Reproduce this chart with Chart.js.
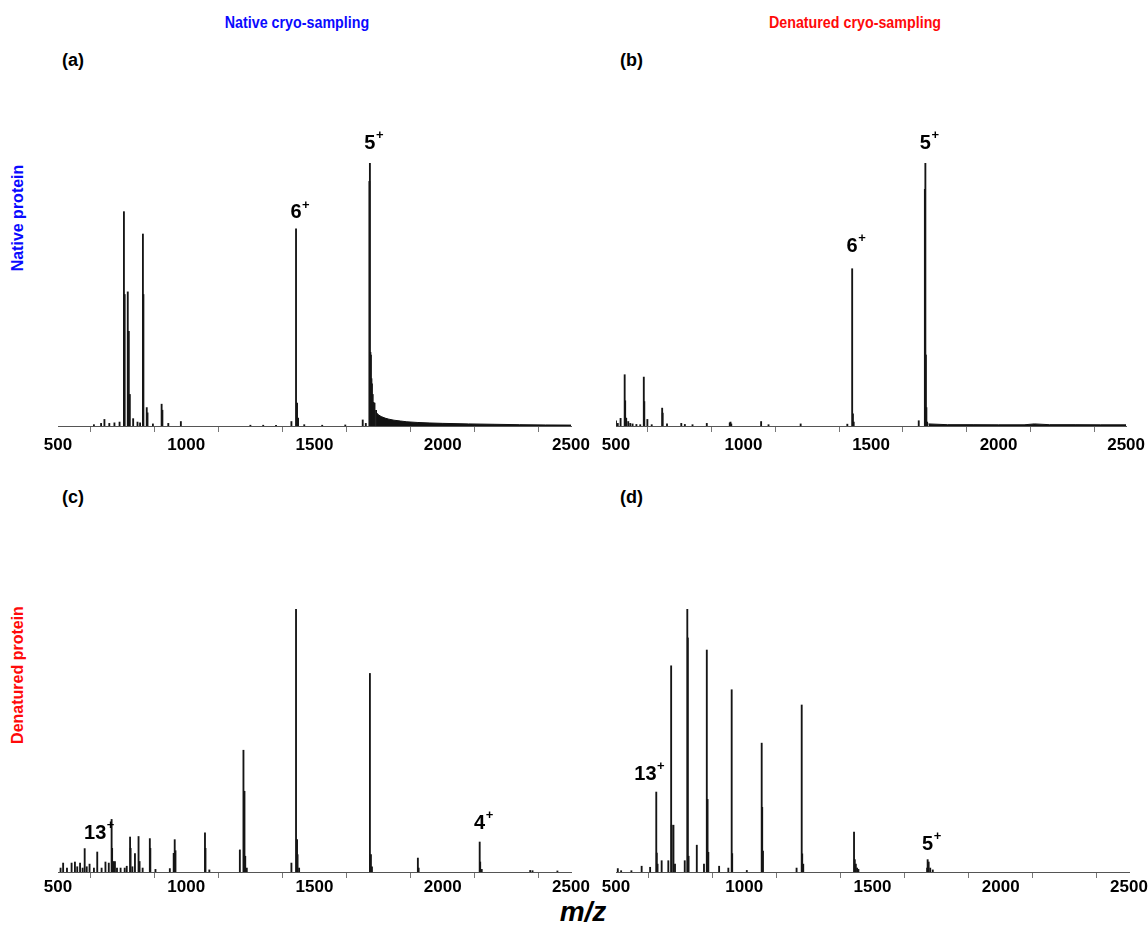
<!DOCTYPE html>
<html><head><meta charset="utf-8">
<script src="https://cdn.jsdelivr.net/npm/chart.js@4.4.1/dist/chart.umd.min.js"></script>
<style>
html,body{margin:0;padding:0;background:#fff;width:1148px;height:929px;overflow:hidden;font-family:"Liberation Sans",Arial,sans-serif;}
canvas{position:absolute;}
.t{position:absolute;font-weight:bold;white-space:nowrap;line-height:1;}
</style></head><body>
<div class="t" style="color:#0a0aff;font-size:17px;left:297px;top:22px;transform:translate(-50%,-50%) scaleX(0.84);">Native cryo-sampling</div>
<div class="t" style="color:#ff0a0a;font-size:17px;left:855px;top:22px;transform:translate(-50%,-50%) scaleX(0.84);">Denatured cryo-sampling</div>
<div class="t" style="font-size:18px;left:62px;top:51px;">(a)</div>
<div class="t" style="font-size:18px;left:620px;top:51px;">(b)</div>
<div class="t" style="font-size:18px;left:62px;top:488px;">(c)</div>
<div class="t" style="font-size:18px;left:620px;top:488px;">(d)</div>
<div class="t" style="color:#0a0aff;font-size:16px;left:18px;top:218px;transform:translate(-50%,-50%) rotate(-90deg);">Native protein</div>
<div class="t" style="color:#ff0a0a;font-size:16px;left:18px;top:675px;transform:translate(-50%,-50%) rotate(-90deg);">Denatured protein</div>
<div class="t" style="font-size:28px;font-style:italic;left:583px;top:912px;transform:translate(-50%,-50%);">m/z</div>

<canvas id="ca" width="600" height="380" style="left:0;top:90px;"></canvas>
<canvas id="cb" width="574" height="380" style="left:574px;top:90px;"></canvas>
<canvas id="cc" width="600" height="380" style="left:0;top:535px;"></canvas>
<canvas id="cd" width="574" height="380" style="left:574px;top:535px;"></canvas>
<script>
// ---- data (m/z, relative intensity %) ----
const tickLabels = [500, 1000, 1500, 2000, 2500];

const aMz  = [640, 668, 681, 700, 720, 740, 757, 760, 772, 776, 780, 793, 810, 820, 831, 833, 846, 849, 870, 904, 907, 930, 979, 1250, 1300, 1350, 1410, 1428, 1432, 1436, 1460, 1530, 1620, 1688, 1700, 1714, 1716, 1718, 1720, 1722, 1724, 1727, 1730, 1734, 1740];
const aInt = [0.5, 1.0, 2.5, 1.0, 1.2, 1.5, 81.5, 50, 51, 36, 12, 2.8, 1.5, 1.2, 73, 50, 7, 5, 0.8, 8.3, 6, 1.0, 1.7, 0.3, 0.3, 0.3, 1.7, 75, 8.7, 3, 0.5, 0.3, 0.4, 2.3, 1.0, 93, 100, 28, 27, 18, 16, 12, 9, 8.7, 6];
const aTailMz  = [1742, 1750, 1760, 1775, 1790, 1810, 1835, 1860, 1900, 1950, 2000, 2100, 2200, 2300, 2400, 2500];
const aTailInt = [5, 4.2, 3.6, 3.0, 2.6, 2.2, 1.9, 1.6, 1.35, 1.15, 1.0, 0.8, 0.65, 0.5, 0.4, 0.35];

const bMz  = [500, 507, 518, 534, 536, 540, 548, 556, 565, 580, 595, 609, 611, 623, 640, 681, 683, 700, 756, 770, 800, 856, 946, 949, 952, 1069, 1098, 1224, 1407, 1426, 1429, 1432, 1687, 1711, 1713, 1715, 1717, 1720];
const bInt = [2, 1, 2.9, 19.5, 9.6, 3, 1.7, 1, 0.8, 0.6, 0.5, 18.6, 9.3, 2.5, 0.5, 6.8, 4.9, 0.8, 1, 0.6, 0.5, 1, 1.2, 1.5, 0.8, 1.7, 0.5, 0.8, 0.7, 59.8, 4.6, 1.5, 2, 90, 100, 27, 7, 1.5];
const bTailMz  = [1725, 1800, 1900, 2000, 2100, 2140, 2200, 2300, 2400, 2500];
const bTailInt = [0.8, 0.5, 0.5, 0.45, 0.45, 0.8, 0.5, 0.5, 0.45, 0.45];

const cMz  = [510, 520, 535, 553, 566, 575, 586, 596, 604, 612, 623, 640, 653, 670, 685, 698, 709, 711, 716, 722, 730, 744, 760, 768, 781, 783, 790, 800, 814, 818, 830, 858, 860, 880, 936, 951, 955, 958, 1073, 1075, 1090, 1209, 1223, 1227, 1230, 1236, 1410, 1428, 1432, 1434, 1440, 1716, 1720, 1724, 1903, 1906, 2144, 2146, 2152, 2341, 2350, 2447];
const cInt = [1.5, 3.4, 1.5, 3.4, 3.8, 2, 3.4, 1.5, 8.9, 2, 3.0, 1.5, 7.6, 1.5, 3.8, 3.4, 20, 9, 4, 4, 1.5, 1.5, 1.5, 2.2, 13.3, 9, 2, 7, 13.5, 4, 1.5, 12.7, 9, 1, 1.3, 7.1, 12.3, 8.1, 14.9, 9, 0.8, 8.4, 46.3, 30.7, 6, 1.5, 3.4, 100, 12.3, 6.6, 1.5, 75.5, 6.6, 2, 5.3, 1.5, 11.4, 3.8, 1, 0.6, 0.5, 0.4];

const dMz  = [507, 520, 560, 600, 633, 657, 659, 662, 678, 704, 715, 717, 724, 730, 768, 778, 780, 783, 815, 843, 854, 857, 860, 902, 938, 951, 953, 1010, 1068, 1070, 1073, 1204, 1224, 1226, 1230, 1428, 1431, 1435, 1440, 1445, 1713, 1715, 1719, 1725, 1735];
const dInt = [1.3, 0.5, 0.5, 2.2, 1.8, 30.4, 7.2, 3, 4.3, 4.3, 78.4, 17.8, 17.8, 3, 4.3, 100, 89, 6, 10.2, 3, 84.4, 27.6, 7.5, 2.2, 1.5, 69.3, 7, 0.6, 49, 24.6, 8, 1.5, 63.5, 6.9, 3, 15.2, 4.7, 3, 1.5, 1.0, 1.5, 4.7, 3.8, 1.5, 0.8];

// charge-state labels: text, m/z of label centre, intensity level of label centre
const annA = [{text: '6', mz: 1428, y: 81}, {text: '5', mz: 1716, y: 107.6}];
const annB = [{text: '6', mz: 1426, y: 68.4}, {text: '5', mz: 1713, y: 107.6}];
const annC = [{text: '13', mz: 645, y: 14.5}, {text: '4', mz: 2144, y: 18.5}];
const annD = [{text: '13', mz: 615, y: 37}, {text: '5', mz: 1715, y: 10.3}];

// ---- drawing ----
const chargePlugin = {
  id: 'charge',
  afterDatasetsDraw(chart, args, opts) {
    const ctx = chart.ctx, xs = chart.scales.x, ys = chart.scales.y;
    ctx.save();
    ctx.fillStyle = '#000';
    ctx.textBaseline = 'middle';
    (opts.items || []).forEach(a => {
      const x = xs.getPixelForValue(a.mz), y = ys.getPixelForValue(a.y);
      ctx.font = 'bold 20px "Liberation Sans", Arial, sans-serif';
      const w = ctx.measureText(a.text).width;
      ctx.textAlign = 'center';
      ctx.fillText(a.text, x, y);
      ctx.font = 'bold 13px "Liberation Sans", Arial, sans-serif';
      ctx.textAlign = 'left';
      ctx.fillText('+', x + w / 2 + 0.5, y - 8);
    });
    ctx.restore();
  }
};

function pts(xs, ys) { return xs.map((x, i) => ({x: x, y: ys[i]})); }

function makeChart(id, mz, inten, tailMz, tailInt, ann, pad, axisH, tickPad) {
  const datasets = [{
    type: 'bar',
    data: pts(mz, inten),
    backgroundColor: '#151515',
    borderWidth: 0,
    barThickness: 1.2,
    grouped: false,
    order: 1
  }];
  if (tailMz) {
    datasets.push({
      type: 'line',
      data: pts(tailMz, tailInt),
      borderColor: '#111',
      backgroundColor: '#111',
      borderWidth: 1,
      pointRadius: 0,
      fill: 'origin',
      tension: 0,
      order: 0
    });
  }
  return new Chart(document.getElementById(id), {
    type: 'bar',
    data: {datasets: datasets},
    plugins: [chargePlugin],
    options: {
      responsive: false,
      animation: false,
      events: [],
      layout: {padding: pad},
      plugins: {legend: {display: false}, tooltip: {enabled: false}, charge: {items: ann}},
      scales: {
        x: {
          type: 'linear',
          min: 500, max: 2500,
          offset: false,
          afterFit: s => { s.height = axisH; },
          border: {display: true, color: '#555', width: 1},
          grid: {display: true, drawOnChartArea: false, drawTicks: true, tickLength: 6, color: '#777', lineWidth: 1},
          ticks: {
            stepSize: 250,
            autoSkip: false,
            maxRotation: 0,
            padding: tickPad,
            color: '#000',
            font: {family: '"Liberation Sans", Arial, sans-serif', size: 17, weight: 'bold'},
            callback: v => tickLabels.includes(v) ? String(v) : ''
          }
        },
        y: {display: false, min: 0, max: 100}
      }
    }
  });
}

makeChart('ca', aMz, aInt, aTailMz, aTailInt, annA, {left: 58, right: 29, top: 73, bottom: 0}, 44, 3);
makeChart('cb', bMz, bInt, bTailMz, bTailInt, annB, {left: 42, right: 19, top: 73, bottom: 0}, 44, 3);
makeChart('cc', cMz, cInt, null, null, annC, {left: 58, right: 29, top: 74, bottom: 0}, 43, -1);
makeChart('cd', dMz, dInt, null, null, annD, {left: 42, right: 19, top: 74, bottom: 0}, 43, -1);
</script>
</body></html>
